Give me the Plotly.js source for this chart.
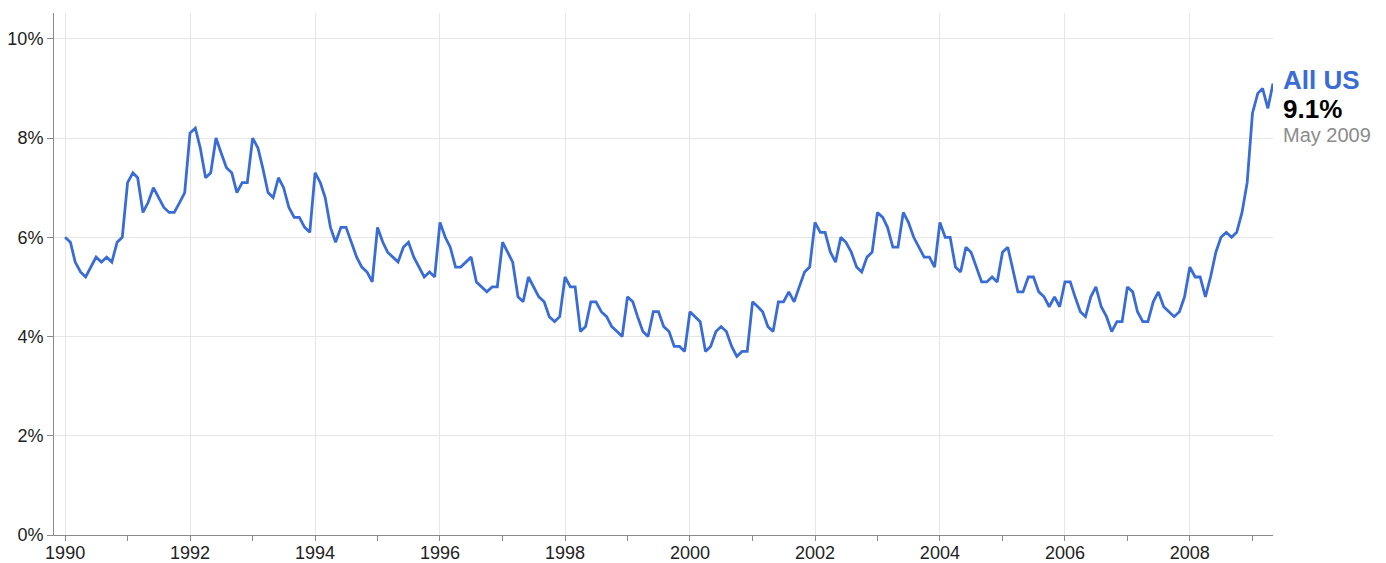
<!DOCTYPE html>
<html>
<head>
<meta charset="utf-8">
<script src="https://cdn.plot.ly/plotly-3.0.1.min.js"></script>
<style>
  html, body { margin: 0; padding: 0; background: #fff; }
  #chart { width: 1386px; height: 563px; }
</style>
</head>
<body>
<div id="chart"></div>
<script>
// Monthly unemployment rate, All US (not seasonally adjusted), Jan 1990 – May 2009
const startYear = 1990;
const seriesName = "All US";
const lastLabel = "May 2009";
const rate = [
  // 1990
  6.0, 5.9, 5.5, 5.3, 5.2, 5.4, 5.6, 5.5, 5.6, 5.5, 5.9, 6.0,
  // 1991
  7.1, 7.3, 7.2, 6.5, 6.7, 7.0, 6.8, 6.6, 6.5, 6.5, 6.7, 6.9,
  // 1992
  8.1, 8.2, 7.8, 7.2, 7.3, 8.0, 7.7, 7.4, 7.3, 6.9, 7.1, 7.1,
  // 1993
  8.0, 7.8, 7.4, 6.9, 6.8, 7.2, 7.0, 6.6, 6.4, 6.4, 6.2, 6.1,
  // 1994
  7.3, 7.1, 6.8, 6.2, 5.9, 6.2, 6.2, 5.9, 5.6, 5.4, 5.3, 5.1,
  // 1995
  6.2, 5.9, 5.7, 5.6, 5.5, 5.8, 5.9, 5.6, 5.4, 5.2, 5.3, 5.2,
  // 1996
  6.3, 6.0, 5.8, 5.4, 5.4, 5.5, 5.6, 5.1, 5.0, 4.9, 5.0, 5.0,
  // 1997
  5.9, 5.7, 5.5, 4.8, 4.7, 5.2, 5.0, 4.8, 4.7, 4.4, 4.3, 4.4,
  // 1998
  5.2, 5.0, 5.0, 4.1, 4.2, 4.7, 4.7, 4.5, 4.4, 4.2, 4.1, 4.0,
  // 1999
  4.8, 4.7, 4.4, 4.1, 4.0, 4.5, 4.5, 4.2, 4.1, 3.8, 3.8, 3.7,
  // 2000
  4.5, 4.4, 4.3, 3.7, 3.8, 4.1, 4.2, 4.1, 3.8, 3.6, 3.7, 3.7,
  // 2001
  4.7, 4.6, 4.5, 4.2, 4.1, 4.7, 4.7, 4.9, 4.7, 5.0, 5.3, 5.4,
  // 2002
  6.3, 6.1, 6.1, 5.7, 5.5, 6.0, 5.9, 5.7, 5.4, 5.3, 5.6, 5.7,
  // 2003
  6.5, 6.4, 6.2, 5.8, 5.8, 6.5, 6.3, 6.0, 5.8, 5.6, 5.6, 5.4,
  // 2004
  6.3, 6.0, 6.0, 5.4, 5.3, 5.8, 5.7, 5.4, 5.1, 5.1, 5.2, 5.1,
  // 2005
  5.7, 5.8, 5.4, 4.9, 4.9, 5.2, 5.2, 4.9, 4.8, 4.6, 4.8, 4.6,
  // 2006
  5.1, 5.1, 4.8, 4.5, 4.4, 4.8, 5.0, 4.6, 4.4, 4.1, 4.3, 4.3,
  // 2007
  5.0, 4.9, 4.5, 4.3, 4.3, 4.7, 4.9, 4.6, 4.5, 4.4, 4.5, 4.8,
  // 2008
  5.4, 5.2, 5.2, 4.8, 5.2, 5.7, 6.0, 6.1, 6.0, 6.1, 6.5, 7.1,
  // 2009
  8.5, 8.9, 9.0, 8.6, 9.1
];
const yTickVals = [0, 2, 4, 6, 8, 10];
const yTickText = ["0%", "2%", "4%", "6%", "8%", "10%"];

// month dates for each observation
const dates = rate.map((_, i) => {
  const y = startYear + Math.floor(i / 12);
  const m = (i % 12) + 1;
  return y + "-" + String(m).padStart(2, "0") + "-01";
});
const lastIdx = rate.length - 1;

const FONT = "Liberation Sans, Arial, sans-serif";
const BLUE = "#3a6cd6";

const trace = {
  x: dates,
  y: rate,
  type: "scatter",
  mode: "lines",
  line: { color: BLUE, width: 2.8 },
  hoverinfo: "x+y"
};

const layout = {
  width: 1386,
  height: 563,
  margin: { l: 54, r: 113, t: 13, b: 28 },
  paper_bgcolor: "#fff",
  plot_bgcolor: "#fff",
  showlegend: false,
  font: { family: FONT, size: 18, color: "#222" },
  xaxis: {
    type: "date",
    range: ["1989-10-28", dates[lastIdx]],
    tick0: "1990-01-01",
    dtick: "M24",
    tickformat: "%Y",
    showgrid: true,
    gridcolor: "#e6e6e6",
    gridwidth: 1,
    showline: true,
    linecolor: "#8a8a8a",
    linewidth: 1,
    ticks: "outside",
    ticklen: 5,
    tickcolor: "#8a8a8a",
    ticklabelstandoff: -4,
    tickfont: { family: FONT, size: 18, color: "#222" },
    minor: { dtick: "M12", tick0: "1990-01-01", ticks: "outside", ticklen: 5, tickcolor: "#8a8a8a", showgrid: false },
    zeroline: false,
    fixedrange: true
  },
  yaxis: {
    range: [0, 10.52],
    tickvals: yTickVals,
    ticktext: yTickText,
    showgrid: true,
    gridcolor: "#e6e6e6",
    gridwidth: 1,
    showline: true,
    linecolor: "#8a8a8a",
    linewidth: 1,
    ticks: "outside",
    ticklen: 6,
    tickcolor: "#8a8a8a",
    tickfont: { family: FONT, size: 18, color: "#222" },
    zeroline: false,
    fixedrange: true
  },
  annotations: [
    {
      x: 1, xref: "paper", xanchor: "left", xshift: 8,
      y: rate[lastIdx], yref: "y", yanchor: "middle", yshift: 3,
      text: "<b>" + seriesName + "</b>",
      showarrow: false,
      font: { family: FONT, size: 26, color: BLUE }
    },
    {
      x: 1, xref: "paper", xanchor: "left", xshift: 8,
      y: rate[lastIdx], yref: "y", yanchor: "middle", yshift: -26,
      text: "<b>" + rate[lastIdx].toFixed(1) + "%</b>",
      showarrow: false,
      font: { family: FONT, size: 26, color: "#000" }
    },
    {
      x: 1, xref: "paper", xanchor: "left", xshift: 8,
      y: rate[lastIdx], yref: "y", yanchor: "middle", yshift: -52,
      text: lastLabel,
      showarrow: false,
      font: { family: FONT, size: 20, color: "#8c8c8c" }
    }
  ]
};

Plotly.newPlot("chart", [trace], layout, { displayModeBar: false });
</script>
</body>
</html>
